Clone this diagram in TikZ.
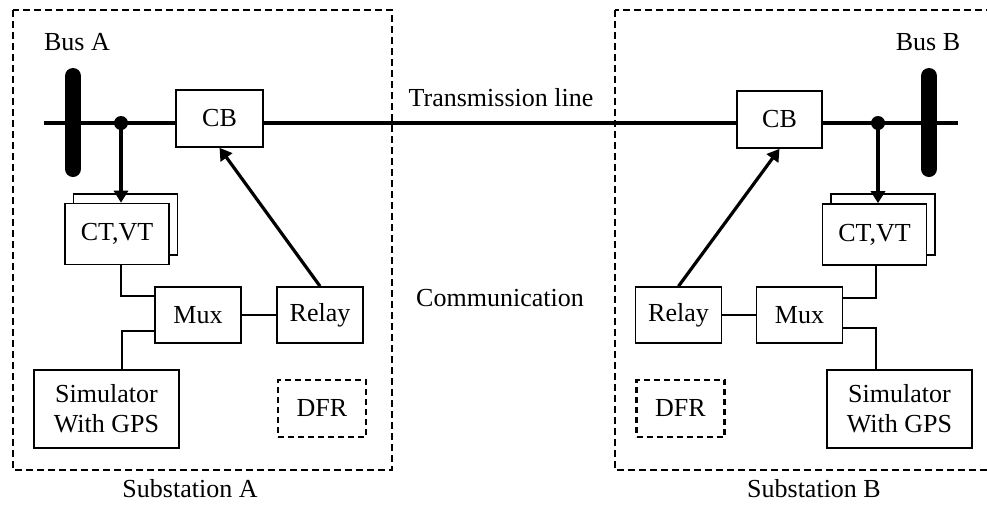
\documentclass[tikz,border=0pt]{standalone}
\usepackage{fontspec}
\setmainfont{Liberation Serif}
\usetikzlibrary{arrows.meta,calc}
\begin{document}
\begin{tikzpicture}[x=1pt,y=-1pt,
  every node/.style={font=\fontsize{26}{30}\selectfont, inner sep=0pt},
  blk/.style={draw, line width=1.6pt, fill=white, align=center},
  dfr/.style={draw, line width=2.2pt, dash pattern=on 6pt off 4pt, fill=white},
  sub/.style={draw, line width=2pt, dash pattern=on 7pt off 4pt},
  thin/.style={line width=1.6pt},
  tline/.style={line width=4.5pt},
  busbar/.style={line width=16pt, line cap=round},
  arr/.style={line width=3.2pt, -{Triangle[length=12pt,width=14pt]}},
  dot/.style={circle, fill, minimum size=14pt}
]
\clip (0,0) rectangle (987,504);
\fill[white] (0,0) rectangle (987,504);
% substation boxes
\draw[sub] (13,10) rectangle (392,470);
\draw[sub] (615,10) rectangle (993,470);
% transmission line
\coordinate (tlA) at (44,123);
\coordinate (tlB) at (958,123);
\draw[tline] (tlA) -- (tlB);
% bus bars
\coordinate (busAt) at (73,76); \coordinate (busAb) at (73,169);
\coordinate (busBt) at (929,76); \coordinate (busBb) at (929,169);
\draw[busbar] (busAt) -- (busAb);
\draw[busbar] (busBt) -- (busBb);
\node (busAlbl) at (77,42) {Bus A};
\node (busBlbl) at (928,42) {Bus B};
% dots
\node[dot] (dotA) at (121,123) {};
\node[dot] (dotB) at (878,123) {};
% circuit breakers
\node[blk, minimum width=87pt, minimum height=57pt] (cbA) at (219.5,118.5) {CB};
\node[blk, minimum width=85pt, minimum height=57pt] (cbB) at (779.5,119.5) {CB};
% CT,VT
\node[blk, minimum width=104pt, minimum height=61pt] (ctAback) at (125.5,224.5) {};
\node[blk, minimum width=104pt, minimum height=61pt] (ctA) at (117,234) {CT,VT};
\node[blk, minimum width=104pt, minimum height=61pt] (ctBback) at (883,224.5) {};
\node[blk, minimum width=104pt, minimum height=61pt] (ctB) at (874.5,234.5) {CT,VT};
% Mux, Relay
\node[blk, minimum width=86pt, minimum height=56pt] (muxA) at (198,315) {Mux};
\node[blk, minimum width=86pt, minimum height=56pt] (relA) at (320,315) {Relay};
\node[blk, minimum width=86pt, minimum height=56pt] (relB) at (678.5,315) {Relay};
\node[blk, minimum width=86pt, minimum height=56pt] (muxB) at (799.5,315) {Mux};
% Simulators
\node[blk, minimum width=145pt, minimum height=78pt] (simA) at (106.5,409) {Simulator\\With GPS};
\node[blk, minimum width=145pt, minimum height=78pt] (simB) at (899.5,409) {Simulator\\With GPS};
% DFR
\node[dfr, minimum width=88pt, minimum height=57pt] (dfrA) at (322,408.5) {DFR};
\node[dfr, minimum width=88pt, minimum height=57pt] (dfrB) at (680.5,408.5) {DFR};
% arrows
\draw[arr] (dotA.center) -- (dotA |- ctA.north);
\draw[arr] (dotB.center) -- (dotB |- ctB.north);
\draw[arr] (relA.north) -- (cbA.south);
\draw[arr] (relB.north) -- (cbB.south);
% thin connectors
\draw[thin] (muxA) -- (relA);
\draw[thin] (relB) -- (muxB);
\draw[thin] (dotA |- ctA.south) |- ($(muxA.west)+(0,-19)$);
\draw[thin] ($(simA.north)+(15.5,0)$) |- ($(muxA.west)+(0,16)$);
\draw[thin] ($(ctB.south)+(1.5,0)$) |- ($(muxB.east)+(0,-17)$);
\draw[thin] ($(simB.north)+(-23.5,0)$) |- ($(muxB.east)+(0,13)$);
% labels
\node (tl) at (501,98) {Transmission line};
\node (comm) at (500,298) {Communication};
\node (subA) at (190,489) {Substation A};
\node (subB) at (814,489) {Substation B};
\end{tikzpicture}
\end{document}
